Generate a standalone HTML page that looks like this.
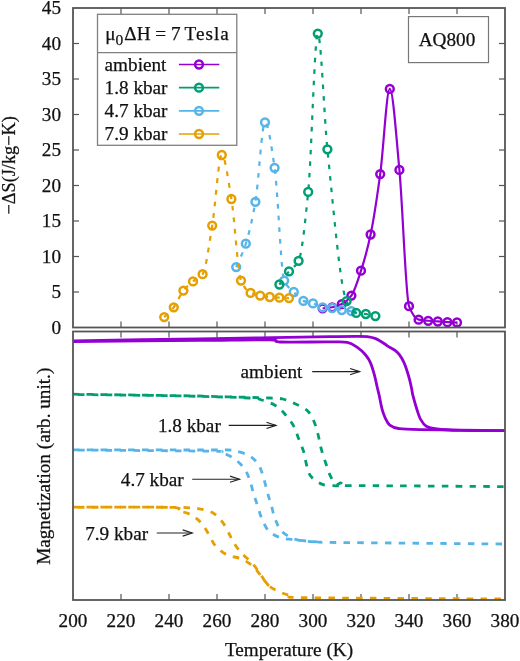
<!DOCTYPE html><html><head><meta charset="utf-8"><style>html,body{margin:0;padding:0;background:#fff;}svg{display:block;will-change:transform;}</style></head><body>
<svg width="520" height="661" viewBox="0 0 520 661">
<rect width="520" height="661" fill="#fff"/>
<defs><clipPath id="ct"><rect x="73.0" y="8.0" width="432.0" height="319.5"/></clipPath>
<clipPath id="cb"><rect x="73.0" y="331.5" width="432.0" height="268.5"/></clipPath></defs>
<g stroke="#555555" stroke-width="1.2">
<line x1="121.0" y1="8.0" x2="121.0" y2="14.0"/>
<line x1="121.0" y1="327.5" x2="121.0" y2="321.5"/>
<line x1="121.0" y1="331.5" x2="121.0" y2="337.5"/>
<line x1="121.0" y1="600" x2="121.0" y2="594.0"/>
<line x1="169.0" y1="8.0" x2="169.0" y2="14.0"/>
<line x1="169.0" y1="327.5" x2="169.0" y2="321.5"/>
<line x1="169.0" y1="331.5" x2="169.0" y2="337.5"/>
<line x1="169.0" y1="600" x2="169.0" y2="594.0"/>
<line x1="217.0" y1="8.0" x2="217.0" y2="14.0"/>
<line x1="217.0" y1="327.5" x2="217.0" y2="321.5"/>
<line x1="217.0" y1="331.5" x2="217.0" y2="337.5"/>
<line x1="217.0" y1="600" x2="217.0" y2="594.0"/>
<line x1="265.0" y1="8.0" x2="265.0" y2="14.0"/>
<line x1="265.0" y1="327.5" x2="265.0" y2="321.5"/>
<line x1="265.0" y1="331.5" x2="265.0" y2="337.5"/>
<line x1="265.0" y1="600" x2="265.0" y2="594.0"/>
<line x1="313.0" y1="8.0" x2="313.0" y2="14.0"/>
<line x1="313.0" y1="327.5" x2="313.0" y2="321.5"/>
<line x1="313.0" y1="331.5" x2="313.0" y2="337.5"/>
<line x1="313.0" y1="600" x2="313.0" y2="594.0"/>
<line x1="361.0" y1="8.0" x2="361.0" y2="14.0"/>
<line x1="361.0" y1="327.5" x2="361.0" y2="321.5"/>
<line x1="361.0" y1="331.5" x2="361.0" y2="337.5"/>
<line x1="361.0" y1="600" x2="361.0" y2="594.0"/>
<line x1="409.0" y1="8.0" x2="409.0" y2="14.0"/>
<line x1="409.0" y1="327.5" x2="409.0" y2="321.5"/>
<line x1="409.0" y1="331.5" x2="409.0" y2="337.5"/>
<line x1="409.0" y1="600" x2="409.0" y2="594.0"/>
<line x1="457.0" y1="8.0" x2="457.0" y2="14.0"/>
<line x1="457.0" y1="327.5" x2="457.0" y2="321.5"/>
<line x1="457.0" y1="331.5" x2="457.0" y2="337.5"/>
<line x1="457.0" y1="600" x2="457.0" y2="594.0"/>
<line x1="73.0" y1="292.0" x2="79.0" y2="292.0"/>
<line x1="505.0" y1="292.0" x2="499.0" y2="292.0"/>
<line x1="73.0" y1="256.5" x2="79.0" y2="256.5"/>
<line x1="505.0" y1="256.5" x2="499.0" y2="256.5"/>
<line x1="73.0" y1="221.0" x2="79.0" y2="221.0"/>
<line x1="505.0" y1="221.0" x2="499.0" y2="221.0"/>
<line x1="73.0" y1="185.5" x2="79.0" y2="185.5"/>
<line x1="505.0" y1="185.5" x2="499.0" y2="185.5"/>
<line x1="73.0" y1="150.0" x2="79.0" y2="150.0"/>
<line x1="505.0" y1="150.0" x2="499.0" y2="150.0"/>
<line x1="73.0" y1="114.5" x2="79.0" y2="114.5"/>
<line x1="505.0" y1="114.5" x2="499.0" y2="114.5"/>
<line x1="73.0" y1="79.0" x2="79.0" y2="79.0"/>
<line x1="505.0" y1="79.0" x2="499.0" y2="79.0"/>
<line x1="73.0" y1="43.5" x2="79.0" y2="43.5"/>
<line x1="505.0" y1="43.5" x2="499.0" y2="43.5"/>
</g>
<rect x="97.5" y="14.3" width="139.3" height="131" fill="#fff" stroke="#808080" stroke-width="1.3"/>
<line x1="97.5" y1="52.7" x2="236.8" y2="52.7" stroke="#808080" stroke-width="1.3"/>
<rect x="408.5" y="16.6" width="80" height="46" fill="#fff" stroke="#777" stroke-width="1.2"/>
<g clip-path="url(#ct)">
<path d="M322.60,308.33 C325.80,307.97 329.00,307.80 332.20,307.26 C335.40,306.73 338.60,305.62 341.80,304.07 C345.00,302.52 348.20,299.78 351.40,295.55 C354.60,291.32 357.80,280.52 361.00,270.70 C364.20,260.88 367.40,249.58 370.60,234.49 C373.80,219.40 377.00,197.69 380.20,174.14 C383.40,150.59 386.60,88.94 389.80,88.94 C393.00,88.94 396.20,136.02 399.40,169.88 C402.60,203.74 405.80,298.02 409.00,306.20 C412.20,314.38 415.40,319.03 418.60,319.69 C421.80,320.35 425.00,320.47 428.20,320.75 C431.40,321.04 434.60,321.23 437.80,321.46 C441.00,321.70 444.20,322.02 447.40,322.18 C450.60,322.33 453.80,322.41 457.00,322.53" fill="none" stroke="#9400d3" stroke-width="2.2" stroke-linejoin="round"/>
<circle cx="322.6" cy="308.3" r="3.9" fill="none" stroke="#9400d3" stroke-width="2.5"/>
<circle cx="332.2" cy="307.3" r="3.9" fill="none" stroke="#9400d3" stroke-width="2.5"/>
<circle cx="341.8" cy="304.1" r="3.9" fill="none" stroke="#9400d3" stroke-width="2.5"/>
<circle cx="351.4" cy="295.6" r="3.9" fill="none" stroke="#9400d3" stroke-width="2.5"/>
<circle cx="361.0" cy="270.7" r="3.9" fill="none" stroke="#9400d3" stroke-width="2.5"/>
<circle cx="370.6" cy="234.5" r="3.9" fill="none" stroke="#9400d3" stroke-width="2.5"/>
<circle cx="380.2" cy="174.1" r="3.9" fill="none" stroke="#9400d3" stroke-width="2.5"/>
<circle cx="389.8" cy="88.9" r="3.9" fill="none" stroke="#9400d3" stroke-width="2.5"/>
<circle cx="399.4" cy="169.9" r="3.9" fill="none" stroke="#9400d3" stroke-width="2.5"/>
<circle cx="409.0" cy="306.2" r="3.9" fill="none" stroke="#9400d3" stroke-width="2.5"/>
<circle cx="418.6" cy="319.7" r="3.9" fill="none" stroke="#9400d3" stroke-width="2.5"/>
<circle cx="428.2" cy="320.8" r="3.9" fill="none" stroke="#9400d3" stroke-width="2.5"/>
<circle cx="437.8" cy="321.5" r="3.9" fill="none" stroke="#9400d3" stroke-width="2.5"/>
<circle cx="447.4" cy="322.2" r="3.9" fill="none" stroke="#9400d3" stroke-width="2.5"/>
<circle cx="457.0" cy="322.5" r="3.9" fill="none" stroke="#9400d3" stroke-width="2.5"/>
<path d="M236.20,267.15 C239.40,259.34 242.60,253.74 245.80,243.72 C249.00,233.70 252.20,220.12 255.40,201.83 C258.60,183.54 261.80,122.31 265.00,122.31 C268.20,122.31 271.40,146.15 274.60,167.75 C277.80,189.35 281.00,273.76 284.20,280.64 C287.40,287.52 290.60,288.68 293.80,292.00 C297.00,295.32 300.20,299.58 303.40,300.88 C306.60,302.17 309.80,302.35 313.00,303.36 C316.20,304.37 319.40,306.86 322.60,307.26 C325.80,307.67 329.00,307.62 332.20,307.98 C335.40,308.33 338.60,309.63 341.80,310.11 C345.00,310.58 348.20,310.81 351.40,311.17" fill="none" stroke="#56b4e9" stroke-width="2.2" stroke-dasharray="4.6,7" stroke-linejoin="round"/>
<circle cx="236.2" cy="267.1" r="3.9" fill="none" stroke="#56b4e9" stroke-width="2.5"/>
<circle cx="245.8" cy="243.7" r="3.9" fill="none" stroke="#56b4e9" stroke-width="2.5"/>
<circle cx="255.4" cy="201.8" r="3.9" fill="none" stroke="#56b4e9" stroke-width="2.5"/>
<circle cx="265.0" cy="122.3" r="3.9" fill="none" stroke="#56b4e9" stroke-width="2.5"/>
<circle cx="274.6" cy="167.8" r="3.9" fill="none" stroke="#56b4e9" stroke-width="2.5"/>
<circle cx="284.2" cy="280.6" r="3.9" fill="none" stroke="#56b4e9" stroke-width="2.5"/>
<circle cx="293.8" cy="292.0" r="3.9" fill="none" stroke="#56b4e9" stroke-width="2.5"/>
<circle cx="303.4" cy="300.9" r="3.9" fill="none" stroke="#56b4e9" stroke-width="2.5"/>
<circle cx="313.0" cy="303.4" r="3.9" fill="none" stroke="#56b4e9" stroke-width="2.5"/>
<circle cx="322.6" cy="307.3" r="3.9" fill="none" stroke="#56b4e9" stroke-width="2.5"/>
<circle cx="332.2" cy="308.0" r="3.9" fill="none" stroke="#56b4e9" stroke-width="2.5"/>
<circle cx="341.8" cy="310.1" r="3.9" fill="none" stroke="#56b4e9" stroke-width="2.5"/>
<circle cx="351.4" cy="311.2" r="3.9" fill="none" stroke="#56b4e9" stroke-width="2.5"/>
<path d="M279.40,284.55 C282.60,280.17 285.80,275.33 289.00,271.41 C292.20,267.49 295.40,266.91 298.60,260.76 C301.80,254.61 305.00,223.89 308.20,191.89 C311.40,159.89 314.60,33.56 317.80,33.56 C321.00,33.56 324.20,117.99 327.40,149.29 C333.80,211.88 340.20,288.72 346.60,301.23 C349.80,307.49 353.00,312.29 356.20,312.94 C359.40,313.60 362.60,313.54 365.80,314.01 C369.00,314.48 372.20,315.43 375.40,316.14" fill="none" stroke="#009e73" stroke-width="2.2" stroke-dasharray="4.5,7" stroke-linejoin="round"/>
<circle cx="279.4" cy="284.5" r="3.9" fill="none" stroke="#009e73" stroke-width="2.5"/>
<circle cx="289.0" cy="271.4" r="3.9" fill="none" stroke="#009e73" stroke-width="2.5"/>
<circle cx="298.6" cy="260.8" r="3.9" fill="none" stroke="#009e73" stroke-width="2.5"/>
<circle cx="308.2" cy="191.9" r="3.9" fill="none" stroke="#009e73" stroke-width="2.5"/>
<circle cx="317.8" cy="33.6" r="3.9" fill="none" stroke="#009e73" stroke-width="2.5"/>
<circle cx="327.4" cy="149.3" r="3.9" fill="none" stroke="#009e73" stroke-width="2.5"/>
<circle cx="346.6" cy="301.2" r="3.9" fill="none" stroke="#009e73" stroke-width="2.5"/>
<circle cx="356.2" cy="312.9" r="3.9" fill="none" stroke="#009e73" stroke-width="2.5"/>
<circle cx="365.8" cy="314.0" r="3.9" fill="none" stroke="#009e73" stroke-width="2.5"/>
<circle cx="375.4" cy="316.1" r="3.9" fill="none" stroke="#009e73" stroke-width="2.5"/>
<path d="M164.20,317.13 C167.40,313.84 170.60,311.40 173.80,307.26 C177.00,303.13 180.20,294.54 183.40,290.58 C186.60,286.62 189.80,284.03 193.00,281.35 C196.20,278.67 199.40,278.38 202.60,274.25 C205.80,270.12 209.00,244.82 212.20,225.62 C215.40,206.41 218.60,154.97 221.80,154.97 C225.00,154.97 228.20,179.92 231.40,198.99 C234.60,218.06 237.80,273.52 241.00,280.64 C244.20,287.76 247.40,291.48 250.60,292.92 C253.80,294.37 257.00,294.94 260.20,295.55 C263.40,296.16 266.60,296.65 269.80,296.97 C273.00,297.29 276.20,297.50 279.40,297.68 C282.60,297.86 285.80,297.96 289.00,298.11" fill="none" stroke="#e69f00" stroke-width="2.2" stroke-dasharray="4.8,6.8" stroke-linejoin="round"/>
<circle cx="164.2" cy="317.1" r="3.9" fill="none" stroke="#e69f00" stroke-width="2.5"/>
<circle cx="173.8" cy="307.3" r="3.9" fill="none" stroke="#e69f00" stroke-width="2.5"/>
<circle cx="183.4" cy="290.6" r="3.9" fill="none" stroke="#e69f00" stroke-width="2.5"/>
<circle cx="193.0" cy="281.4" r="3.9" fill="none" stroke="#e69f00" stroke-width="2.5"/>
<circle cx="202.6" cy="274.2" r="3.9" fill="none" stroke="#e69f00" stroke-width="2.5"/>
<circle cx="212.2" cy="225.6" r="3.9" fill="none" stroke="#e69f00" stroke-width="2.5"/>
<circle cx="221.8" cy="155.0" r="3.9" fill="none" stroke="#e69f00" stroke-width="2.5"/>
<circle cx="231.4" cy="199.0" r="3.9" fill="none" stroke="#e69f00" stroke-width="2.5"/>
<circle cx="241.0" cy="280.6" r="3.9" fill="none" stroke="#e69f00" stroke-width="2.5"/>
<circle cx="250.6" cy="292.9" r="3.9" fill="none" stroke="#e69f00" stroke-width="2.5"/>
<circle cx="260.2" cy="295.6" r="3.9" fill="none" stroke="#e69f00" stroke-width="2.5"/>
<circle cx="269.8" cy="297.0" r="3.9" fill="none" stroke="#e69f00" stroke-width="2.5"/>
<circle cx="279.4" cy="297.7" r="3.9" fill="none" stroke="#e69f00" stroke-width="2.5"/>
<circle cx="289.0" cy="298.1" r="3.9" fill="none" stroke="#e69f00" stroke-width="2.5"/>
</g>
<g clip-path="url(#cb)" stroke-linecap="butt">
<path d="M73.0,340.8 C94.2,340.5 166.7,339.4 200.0,338.9 C233.3,338.4 251.3,338.0 273.0,337.6 C294.7,337.2 315.5,336.8 330.0,336.6 C344.5,336.4 353.6,336.3 360.0,336.4 C366.4,336.4 366.0,336.6 368.5,336.9 C371.0,337.2 372.9,337.6 375.0,338.4 C377.1,339.2 379.1,340.4 381.0,341.5 C382.9,342.6 385.1,344.2 386.7,345.3 C388.3,346.4 389.2,347.0 390.6,347.8 C392.0,348.6 393.6,349.3 395.0,350.4 C396.4,351.5 397.5,352.2 399.0,354.2 C400.5,356.2 402.4,359.0 404.0,362.6 C405.6,366.2 407.4,371.8 408.6,376.0 C409.9,380.2 410.8,384.8 411.5,388.0 C412.2,391.2 412.0,391.9 412.9,395.4 C413.8,398.9 415.4,404.8 416.7,408.8 C418.0,412.8 419.0,416.5 420.6,419.4 C422.2,422.3 423.6,424.6 426.3,426.2 C429.0,427.8 431.4,428.3 437.0,429.0 C442.6,429.7 448.7,430.1 460.0,430.4 C471.3,430.7 497.5,430.6 505.0,430.6" fill="none" stroke="#9400d3" stroke-width="2.8"/>
<path d="M73.0,341.6 C94.2,341.4 167.2,340.7 200.0,340.4 C232.8,340.1 256.7,339.5 270.0,339.8 C283.3,340.1 270.0,341.6 280.0,342.0 C290.0,342.4 318.8,341.8 330.0,341.9 C341.2,342.0 342.8,341.5 347.3,342.4 C351.8,343.3 353.9,345.1 357.0,347.2 C360.1,349.3 363.4,352.4 365.6,355.0 C367.8,357.6 369.0,359.4 370.4,362.6 C371.8,365.8 373.1,370.2 374.2,374.2 C375.3,378.2 376.3,383.2 377.1,386.7 C377.9,390.2 378.4,391.7 379.2,395.4 C380.0,399.1 381.0,405.1 382.0,408.8 C383.0,412.5 383.7,414.8 385.0,417.5 C386.3,420.2 387.6,423.4 389.8,425.2 C392.1,427.0 393.5,427.8 398.5,428.5 C403.5,429.2 402.2,429.2 420.0,429.6 C437.8,430.0 490.8,430.4 505.0,430.6" fill="none" stroke="#9400d3" stroke-width="2.8"/>
<path d="M73.0,394.2 C90.8,394.4 154.4,395.3 180.0,395.7 C205.6,396.1 214.4,396.5 226.7,396.8 C239.0,397.1 246.7,397.3 253.8,397.5 C260.9,397.7 264.4,397.8 269.2,398.0 C274.0,398.2 278.4,398.0 282.7,399.0 C287.0,400.0 291.0,401.8 295.2,403.8 C299.4,405.8 304.5,407.9 307.7,411.0 C310.9,414.1 312.6,418.3 314.4,422.5 C316.2,426.7 317.2,431.6 318.4,436.0 C319.5,440.4 320.1,444.8 321.3,449.2 C322.5,453.6 324.2,458.4 325.6,462.7 C327.1,467.0 328.3,471.6 330.0,475.2 C331.7,478.8 334.0,483.1 335.8,484.4 C337.6,485.7 339.1,482.7 340.6,482.9 C342.1,483.1 341.8,485.1 345.0,485.5 C348.2,485.9 333.3,485.4 360.0,485.6 C386.7,485.8 480.8,486.4 505.0,486.6" fill="none" stroke="#009e73" stroke-width="2.8" stroke-dasharray="6.5,7.3" stroke-dashoffset="0"/>
<path d="M73.0,394.5 C90.8,394.7 150.6,395.3 180.0,395.9 C209.4,396.5 235.6,397.3 249.2,398.0 C262.8,398.7 257.2,398.8 261.5,400.0 C265.8,401.2 271.1,402.9 275.0,405.2 C278.9,407.5 281.6,410.4 284.6,413.8 C287.7,417.2 291.0,421.4 293.3,425.4 C295.6,429.4 296.6,433.4 298.3,437.7 C300.0,442.0 302.1,446.7 303.5,451.2 C304.9,455.7 305.3,460.4 306.5,464.6 C307.7,468.8 308.2,472.9 310.8,476.2 C313.4,479.5 318.1,482.8 322.3,484.4 C326.5,486.0 332.5,485.6 335.8,485.8 C339.1,486.1 341.0,485.9 342.0,485.9" fill="none" stroke="#009e73" stroke-width="2.8" stroke-dasharray="6.5,7.3" stroke-dashoffset="8.5"/>
<path d="M73.0,449.8 C95.5,449.8 182.2,450.0 208.0,450.0 C233.8,450.0 223.2,449.8 227.9,450.0 C232.7,450.2 232.9,450.2 236.5,451.2 C240.1,452.2 245.9,453.5 249.6,455.8 C253.3,458.1 256.4,461.4 258.7,465.0 C261.0,468.6 262.1,473.0 263.5,477.5 C264.9,482.0 266.0,487.4 267.3,492.0 C268.6,496.6 269.9,500.6 271.2,505.0 C272.5,509.4 273.3,514.2 275.0,518.5 C276.7,522.8 278.2,527.6 281.3,531.0 C284.4,534.4 289.6,537.0 293.8,538.7 C298.0,540.4 301.8,540.7 306.3,541.2 C310.8,541.8 315.9,541.8 320.8,542.0 C325.8,542.2 305.3,542.2 336.0,542.5 C366.7,542.8 476.8,543.8 505.0,544.0" fill="none" stroke="#56b4e9" stroke-width="2.8" stroke-dasharray="6.5,7.3" stroke-dashoffset="0"/>
<path d="M73.0,450.0 C95.5,450.2 183.3,450.8 208.0,451.2 C232.7,451.6 216.7,451.3 221.0,452.5 C225.3,453.7 229.9,455.7 233.7,458.3 C237.5,460.9 241.2,464.4 243.8,467.9 C246.5,471.4 248.0,475.1 249.6,479.4 C251.2,483.7 252.2,489.1 253.5,493.5 C254.8,497.9 256.3,501.7 257.7,506.0 C259.1,510.3 260.2,515.2 262.1,519.4 C264.0,523.6 265.8,528.0 268.8,531.0 C271.9,534.0 276.2,536.3 280.4,537.7 C284.6,539.1 288.9,539.0 293.8,539.6 C298.7,540.2 306.0,541.0 310.0,541.4 C314.0,541.8 316.7,541.8 318.0,541.9" fill="none" stroke="#56b4e9" stroke-width="2.8" stroke-dasharray="6.5,7.3" stroke-dashoffset="8.5"/>
<path d="M73.0,507.1 C89.2,507.1 151.2,507.2 170.0,507.3 C188.8,507.4 181.1,507.4 186.0,507.6 C190.9,507.9 194.8,507.9 199.2,508.8 C203.6,509.7 208.8,510.5 212.7,512.7 C216.5,514.9 219.6,518.4 222.3,521.9 C225.0,525.4 227.1,530.1 229.0,533.5 C230.9,536.9 231.5,539.1 233.5,542.3 C235.5,545.5 238.0,549.2 241.1,552.7 C244.2,556.2 248.8,559.5 252.0,563.0 C255.2,566.5 257.3,569.8 260.0,573.5 C262.7,577.2 264.8,581.9 268.1,585.0 C271.4,588.1 275.6,590.1 279.7,592.0 C283.8,593.9 287.6,595.1 292.4,596.1 C297.2,597.1 273.1,597.2 308.5,597.7 C343.9,598.2 472.2,598.8 505.0,599.0" fill="none" stroke="#e69f00" stroke-width="2.8" stroke-dasharray="6.5,7.3" stroke-dashoffset="0"/>
<path d="M73.0,507.3 C89.2,507.3 152.6,506.9 170.0,507.4 C187.4,507.9 174.2,509.2 177.7,510.4 C181.2,511.6 186.9,512.6 190.8,514.7 C194.7,516.8 198.2,519.6 201.2,522.9 C204.2,526.2 206.4,530.5 208.8,534.4 C211.2,538.2 212.5,542.6 215.6,546.0 C218.7,549.4 223.2,552.9 227.3,555.0 C231.4,557.1 236.3,556.8 240.4,558.5 C244.5,560.2 248.7,562.7 252.0,565.4 C255.3,568.1 257.3,571.3 260.0,574.6 C262.7,577.9 265.8,582.6 268.1,585.0 C270.4,587.4 273.0,588.3 274.0,589.0" fill="none" stroke="#e69f00" stroke-width="2.8" stroke-dasharray="6.5,7.3" stroke-dashoffset="8.5"/>
</g>
<rect x="73.0" y="8.0" width="432.0" height="319.5" fill="none" stroke="#555555" stroke-width="1.8"/>
<rect x="73.0" y="331.5" width="432.0" height="268.5" fill="none" stroke="#555555" stroke-width="1.8"/>
<text x="105.3" y="40" font-family="&quot;Liberation Serif&quot;, serif" font-size="19.2" stroke="#111" stroke-width="0.25" fill="#111">&#956;<tspan font-size="15.5" dy="5">0</tspan><tspan dy="-5" dx="1">&#916;H = 7</tspan><tspan x="184.6" letter-spacing="1">Tesla</tspan></text>
<text x="104.6" y="70.8" font-family="&quot;Liberation Serif&quot;, serif" font-size="19.2" stroke="#111" stroke-width="0.25" fill="#111">ambient</text>
<line x1="178.9" y1="64.5" x2="219.3" y2="64.5" stroke="#9400d3" stroke-width="1.7"/>
<circle cx="199" cy="64.5" r="3.9" fill="none" stroke="#9400d3" stroke-width="2.5"/>
<text x="104.6" y="94.0" font-family="&quot;Liberation Serif&quot;, serif" font-size="19.2" stroke="#111" stroke-width="0.25" fill="#111">1.8 kbar</text>
<line x1="178.9" y1="87.7" x2="219.3" y2="87.7" stroke="#009e73" stroke-width="1.7"/>
<circle cx="199" cy="87.7" r="3.9" fill="none" stroke="#009e73" stroke-width="2.5"/>
<text x="104.6" y="117.1" font-family="&quot;Liberation Serif&quot;, serif" font-size="19.2" stroke="#111" stroke-width="0.25" fill="#111">4.7 kbar</text>
<line x1="178.9" y1="110.8" x2="219.3" y2="110.8" stroke="#56b4e9" stroke-width="1.7"/>
<circle cx="199" cy="110.8" r="3.9" fill="none" stroke="#56b4e9" stroke-width="2.5"/>
<text x="104.6" y="140.3" font-family="&quot;Liberation Serif&quot;, serif" font-size="19.2" stroke="#111" stroke-width="0.25" fill="#111">7.9 kbar</text>
<line x1="178.9" y1="134.0" x2="219.3" y2="134.0" stroke="#e69f00" stroke-width="1.7"/>
<circle cx="199" cy="134.0" r="3.9" fill="none" stroke="#e69f00" stroke-width="2.5"/>
<text x="447" y="46.2" text-anchor="middle" font-family="&quot;Liberation Serif&quot;, serif" font-size="19.2" stroke="#111" stroke-width="0.25" fill="#111">AQ800</text>
<text x="61" y="333.9" text-anchor="end" font-family="&quot;Liberation Serif&quot;, serif" font-size="19.2" stroke="#111" stroke-width="0.25" fill="#111">0</text>
<text x="61" y="298.4" text-anchor="end" font-family="&quot;Liberation Serif&quot;, serif" font-size="19.2" stroke="#111" stroke-width="0.25" fill="#111">5</text>
<text x="61" y="262.9" text-anchor="end" font-family="&quot;Liberation Serif&quot;, serif" font-size="19.2" stroke="#111" stroke-width="0.25" fill="#111">10</text>
<text x="61" y="227.4" text-anchor="end" font-family="&quot;Liberation Serif&quot;, serif" font-size="19.2" stroke="#111" stroke-width="0.25" fill="#111">15</text>
<text x="61" y="191.9" text-anchor="end" font-family="&quot;Liberation Serif&quot;, serif" font-size="19.2" stroke="#111" stroke-width="0.25" fill="#111">20</text>
<text x="61" y="156.4" text-anchor="end" font-family="&quot;Liberation Serif&quot;, serif" font-size="19.2" stroke="#111" stroke-width="0.25" fill="#111">25</text>
<text x="61" y="120.9" text-anchor="end" font-family="&quot;Liberation Serif&quot;, serif" font-size="19.2" stroke="#111" stroke-width="0.25" fill="#111">30</text>
<text x="61" y="85.4" text-anchor="end" font-family="&quot;Liberation Serif&quot;, serif" font-size="19.2" stroke="#111" stroke-width="0.25" fill="#111">35</text>
<text x="61" y="49.9" text-anchor="end" font-family="&quot;Liberation Serif&quot;, serif" font-size="19.2" stroke="#111" stroke-width="0.25" fill="#111">40</text>
<text x="61" y="14.4" text-anchor="end" font-family="&quot;Liberation Serif&quot;, serif" font-size="19.2" stroke="#111" stroke-width="0.25" fill="#111">45</text>
<text x="73.0" y="626.7" text-anchor="middle" font-family="&quot;Liberation Serif&quot;, serif" font-size="19.2" stroke="#111" stroke-width="0.25" fill="#111">200</text>
<text x="121.0" y="626.7" text-anchor="middle" font-family="&quot;Liberation Serif&quot;, serif" font-size="19.2" stroke="#111" stroke-width="0.25" fill="#111">220</text>
<text x="169.0" y="626.7" text-anchor="middle" font-family="&quot;Liberation Serif&quot;, serif" font-size="19.2" stroke="#111" stroke-width="0.25" fill="#111">240</text>
<text x="217.0" y="626.7" text-anchor="middle" font-family="&quot;Liberation Serif&quot;, serif" font-size="19.2" stroke="#111" stroke-width="0.25" fill="#111">260</text>
<text x="265.0" y="626.7" text-anchor="middle" font-family="&quot;Liberation Serif&quot;, serif" font-size="19.2" stroke="#111" stroke-width="0.25" fill="#111">280</text>
<text x="313.0" y="626.7" text-anchor="middle" font-family="&quot;Liberation Serif&quot;, serif" font-size="19.2" stroke="#111" stroke-width="0.25" fill="#111">300</text>
<text x="361.0" y="626.7" text-anchor="middle" font-family="&quot;Liberation Serif&quot;, serif" font-size="19.2" stroke="#111" stroke-width="0.25" fill="#111">320</text>
<text x="409.0" y="626.7" text-anchor="middle" font-family="&quot;Liberation Serif&quot;, serif" font-size="19.2" stroke="#111" stroke-width="0.25" fill="#111">340</text>
<text x="457.0" y="626.7" text-anchor="middle" font-family="&quot;Liberation Serif&quot;, serif" font-size="19.2" stroke="#111" stroke-width="0.25" fill="#111">360</text>
<text x="505.0" y="626.7" text-anchor="middle" font-family="&quot;Liberation Serif&quot;, serif" font-size="19.2" stroke="#111" stroke-width="0.25" fill="#111">380</text>
<text x="289" y="655.8" text-anchor="middle" font-family="&quot;Liberation Serif&quot;, serif" font-size="19.2" stroke="#111" stroke-width="0.25" fill="#111">Temperature (K)</text>
<text transform="translate(14.7,165.4) rotate(-90)" text-anchor="middle" font-family="&quot;Liberation Serif&quot;, serif" font-size="18.3" stroke="#111" stroke-width="0.25" fill="#111">&#8722;&#916;S(J/kg&#8722;K)</text>
<text transform="translate(50,466.3) rotate(-90)" text-anchor="middle" font-family="&quot;Liberation Serif&quot;, serif" font-size="19.2" stroke="#111" stroke-width="0.25" fill="#111">Magnetization (arb. unit.)</text>
<text x="240.6" y="377.9" font-family="&quot;Liberation Serif&quot;, serif" font-size="19.2" stroke="#111" stroke-width="0.25" fill="#111">ambient</text>
<line x1="312.2" y1="371.6" x2="359.6" y2="371.6" stroke="#222" stroke-width="1.15"/>
<polyline points="350.1,368.5 359.6,371.6 350.1,374.7" fill="none" stroke="#222" stroke-width="1.15" stroke-linejoin="miter"/>
<text x="157.9" y="431.6" font-family="&quot;Liberation Serif&quot;, serif" font-size="19.2" stroke="#111" stroke-width="0.25" fill="#111">1.8 kbar</text>
<line x1="228.7" y1="425.4" x2="276.0" y2="425.4" stroke="#222" stroke-width="1.15"/>
<polyline points="266.5,422.3 276.0,425.4 266.5,428.5" fill="none" stroke="#222" stroke-width="1.15" stroke-linejoin="miter"/>
<text x="120.8" y="486" font-family="&quot;Liberation Serif&quot;, serif" font-size="19.2" stroke="#111" stroke-width="0.25" fill="#111">4.7 kbar</text>
<line x1="192.2" y1="479.2" x2="239.5" y2="479.2" stroke="#222" stroke-width="1.15"/>
<polyline points="230.0,476.1 239.5,479.2 230.0,482.3" fill="none" stroke="#222" stroke-width="1.15" stroke-linejoin="miter"/>
<text x="85.2" y="539.9" font-family="&quot;Liberation Serif&quot;, serif" font-size="19.2" stroke="#111" stroke-width="0.25" fill="#111">7.9 kbar</text>
<line x1="156.8" y1="533.0" x2="192.2" y2="533.0" stroke="#222" stroke-width="1.15"/>
<polyline points="182.7,529.9 192.2,533.0 182.7,536.1" fill="none" stroke="#222" stroke-width="1.15" stroke-linejoin="miter"/>
</svg></body></html>
